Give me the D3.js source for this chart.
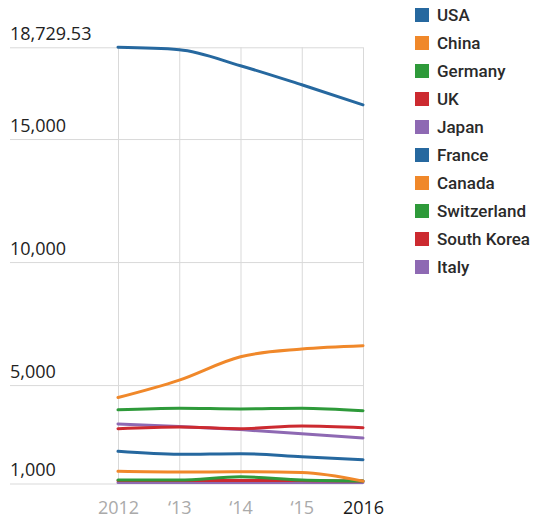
<!DOCTYPE html>
<html>
<head>
<meta charset="utf-8">
<script src="https://cdn.jsdelivr.net/npm/d3@7"></script>
<style>
  body { margin: 0; background: #fff; }
  svg { display: block; }
</style>
</head>
<body>
<svg id="chart"></svg>
<script>
// data
const years = ["2012", "\u201813", "\u201814", "\u201815", "2016"];
const countries = ["USA", "China", "Germany", "UK", "Japan", "France", "Canada", "Switzerland", "South Korea", "Italy"];
const usa         = [18729.53, 18634, 17981, 17206, 16391];
const china       = [4494, 5204, 6154, 6468, 6603];
const germany     = [3993, 4062, 4033, 4062, 3960];
const uk          = [3230, 3300, 3230, 3340, 3270];
const japan       = [3422, 3312, 3190, 3026, 2850];
const france      = [2308, 2186, 2210, 2088, 1966];
const canada      = [1493, 1464, 1476, 1452, 1097];
const switzerland = [1138, 1140, 1273, 1138, 1097];
const southKorea  = [1117, 1117, 1117, 1117, 1100];
const italy       = [1036, 1036, 1036, 1036, 1040];
const yTicks = [1000, 5000, 10000, 15000, 18729.53];

const series = [usa, china, germany, uk, japan, france, canada, switzerland, southKorea, italy];
const palette = ["#26689f", "#f0882a", "#2e9a3a", "#cc2a30", "#8e69b3"];

const width = 558, height = 524;

const svg = d3.select("#chart")
    .attr("width", width)
    .attr("height", height);

// scales
const x = d3.scalePoint()
    .domain(years)
    .range([118, 363]);

const y = d3.scaleLinear()
    .domain([1000, 18729.53])
    .range([483.5, 47.3]);

const color = d3.scaleOrdinal()
    .domain(countries)
    .range(palette);

// horizontal grid + y labels
const yaxis = d3.axisLeft(y)
    .tickValues(yTicks)
    .tickSize(353)
    .tickFormat(d3.format(","));

const ygroup = svg.append("g")
    .attr("transform", "translate(363, 0)")
    .call(yaxis);
ygroup.select(".domain").remove();
ygroup.selectAll(".tick line")
    .attr("stroke", "#d9d9d9")
    .attr("stroke-width", 1);
ygroup.selectAll(".tick text")
    .attr("x", -353)
    .attr("dy", -8)
    .attr("text-anchor", "start")
    .attr("fill", "#222")
    .attr("font-family", "'Open Sans', sans-serif")
    .attr("font-size", "18px");

// vertical grid + x labels
const xaxis = d3.axisBottom(x)
    .tickSize(y(18729.53) - y(1000))
    .tickPadding(0);

const xgroup = svg.append("g")
    .attr("transform", `translate(0, ${y(1000)})`)
    .call(xaxis);
xgroup.select(".domain").remove();
xgroup.selectAll(".tick line")
    .attr("stroke", "#d9d9d9")
    .attr("stroke-width", 1);
xgroup.selectAll(".tick text")
    .attr("y", 30)
    .attr("dy", 0)
    .attr("fill", (d, i) => i === years.length - 1 ? "#1a1a1a" : "#aaaaaa")
    .attr("font-family", "'Open Sans', sans-serif")
    .attr("font-size", "18px");

// lines (draw bottom ones first, USA last)
const line = d3.line()
    .x((d, i) => x(years[i]))
    .y(d => y(d))
    .curve(d3.curveMonotoneX);

svg.append("g")
    .selectAll("path")
    .data(countries.map((c, i) => ({ name: c, values: series[i] })).reverse())
    .join("path")
    .attr("fill", "none")
    .attr("stroke", d => color(d.name))
    .attr("stroke-width", 3)
    .attr("stroke-linecap", "round")
    .attr("d", d => line(d.values));

// legend
const legend = svg.append("g")
    .attr("transform", "translate(415, 8)");

const rows = legend.selectAll("g")
    .data(countries)
    .join("g")
    .attr("transform", (d, i) => `translate(0, ${i * 28})`);

rows.append("rect")
    .attr("width", 14)
    .attr("height", 14)
    .attr("fill", d => color(d));

rows.append("text")
    .attr("x", 22)
    .attr("y", 12.5)
    .attr("fill", "#2a2a2a")
    .attr("font-family", "Roboto, sans-serif")
    .attr("font-weight", 500)
    .attr("font-size", "17px")
    .text(d => d);
</script>
</body>
</html>
